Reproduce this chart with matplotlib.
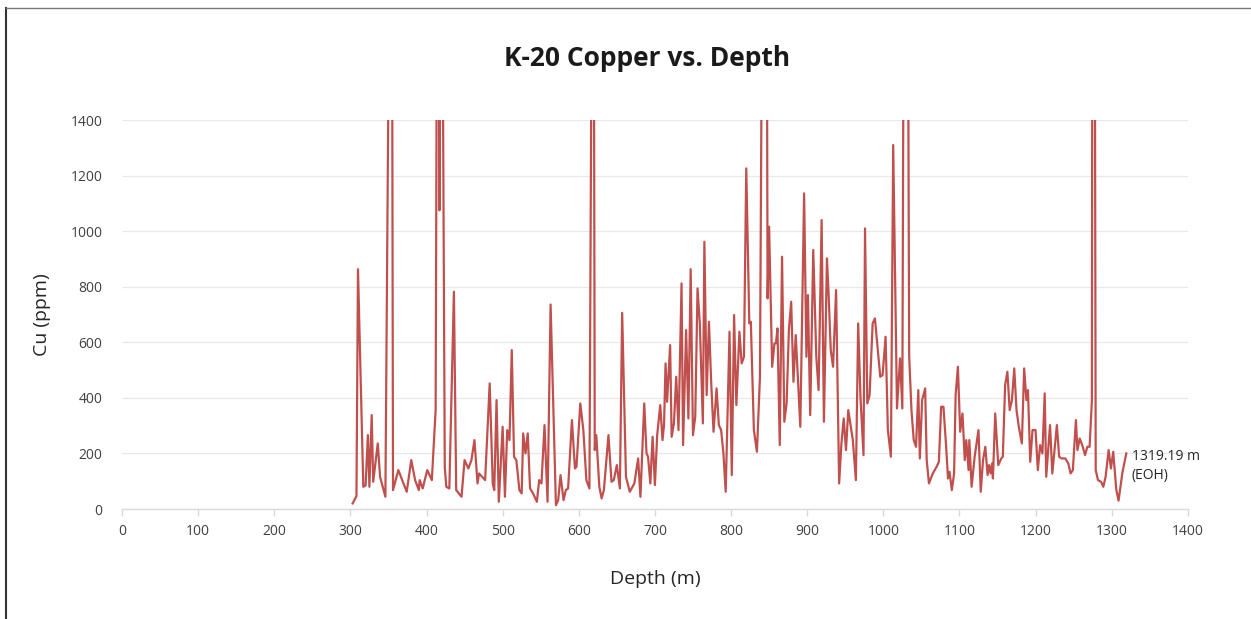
import matplotlib
matplotlib.use("Agg")
import matplotlib.pyplot as plt
from matplotlib.lines import Line2D

plt.rcParams["font.family"] = ["Open Sans", "DejaVu Sans"]

LINE = "#C0504D"
GRID = "#D9D9D9"
TEXT = "#404040"

# spikes above the axis top get 3000 (clipped at 1400)
depth = [
    303, 308, 310, 317, 320, 323, 325, 328, 330, 336, 339, 346, 354, 356, 363, 374, 380, 385, 390, 391,
    395, 401, 407, 412, 415, 417, 419, 424, 426, 430, 436, 439, 446, 450, 455, 459, 463, 467, 469, 477,
    483, 487, 489, 492, 495, 500, 503, 506, 509, 512, 515, 518, 522, 525, 527, 530, 533, 536, 540, 545,
    548, 551, 555, 559, 563, 570, 573, 576, 580, 583, 586, 591, 595, 597, 602, 606, 610, 614, 619, 621,
    623, 627, 630, 633, 639, 643, 646, 650, 654, 657, 662, 667, 673, 678, 681, 686, 689, 691, 694, 697,
    700, 703, 707, 710, 712, 714, 716, 720, 722, 725, 728, 731, 735, 737, 741, 744, 747, 750, 753, 756,
    759, 763, 765, 768, 771, 774, 777, 781, 784, 787, 790, 793, 798, 801, 804, 807, 811, 814, 817, 820,
    824, 826, 830, 834, 838, 843, 846, 848, 850, 854, 857, 859, 861, 864, 867, 870, 873, 876, 879, 882,
    885, 891, 896, 899, 901, 904, 908, 912, 915, 919, 922, 926, 928, 931, 934, 938, 942, 945, 948, 951,
    954, 960, 964, 967, 970, 974, 976, 979, 982, 986, 989, 992, 996, 999, 1003, 1006, 1010, 1013, 1018, 1022,
    1025, 1028, 1031, 1034, 1037, 1040, 1043, 1046, 1048, 1051, 1055, 1057, 1060, 1065, 1070, 1073, 1076, 1079, 1082, 1085,
    1087, 1090, 1093, 1095, 1098, 1101, 1104, 1107, 1109, 1112, 1113, 1116, 1120, 1125, 1128, 1131, 1134, 1137, 1139, 1141,
    1143, 1144, 1147, 1151, 1155, 1157, 1160, 1163, 1166, 1169, 1172, 1175, 1178, 1182, 1185, 1188, 1190, 1193, 1196, 1200,
    1203, 1206, 1209, 1212, 1214, 1219, 1222, 1228, 1231, 1234, 1239, 1243, 1246, 1249, 1253, 1255, 1258, 1262, 1265, 1268,
    1271, 1274, 1275, 1277, 1279, 1282, 1286, 1289, 1292, 1296, 1299, 1302, 1306, 1309, 1314, 1319.19,
]
cu_ppm = [
    20, 47, 863, 80, 85, 266, 80, 338, 98, 236, 116, 44, 3000, 68, 140, 62, 176, 104, 68, 104,
    74, 140, 104, 356, 3000, 1075, 3000, 150, 80, 74, 782, 68, 44, 176, 146, 176, 248, 92, 128, 104,
    452, 92, 68, 392, 26, 296, 44, 284, 248, 572, 188, 176, 68, 56, 272, 200, 272, 74, 56, 26,
    104, 92, 302, 26, 736, 14, 32, 122, 32, 68, 74, 320, 146, 152, 380, 284, 104, 74, 3000, 212,
    266, 80, 38, 68, 266, 98, 104, 158, 74, 706, 116, 62, 92, 182, 44, 380, 200, 188, 92, 260,
    86, 266, 374, 248, 302, 524, 386, 590, 260, 308, 476, 284, 812, 230, 644, 326, 863, 266, 332, 794,
    668, 308, 962, 410, 674, 452, 278, 434, 302, 284, 200, 62, 638, 122, 698, 374, 638, 524, 548, 1226,
    668, 674, 284, 206, 476, 3000, 3000, 758, 1016, 512, 596, 596, 650, 230, 908, 314, 380, 644, 746, 458,
    626, 296, 1136, 548, 770, 338, 932, 548, 428, 1040, 314, 902, 782, 572, 512, 788, 92, 236, 326, 212,
    356, 248, 104, 668, 404, 194, 1010, 380, 410, 668, 686, 596, 476, 482, 620, 284, 188, 1310, 362, 542,
    362, 3000, 3000, 548, 356, 248, 224, 428, 182, 392, 434, 176, 92, 128, 152, 170, 368, 368, 248, 110,
    134, 68, 128, 410, 512, 278, 344, 176, 248, 140, 248, 80, 188, 284, 62, 176, 224, 122, 158, 128,
    164, 110, 344, 158, 182, 188, 446, 494, 356, 392, 506, 356, 296, 236, 506, 392, 428, 170, 284, 284,
    140, 230, 200, 416, 116, 302, 128, 302, 188, 182, 182, 164, 128, 140, 320, 212, 254, 224, 194, 224,
    224, 392, 3000, 3000, 140, 104, 98, 80, 116, 212, 146, 206, 70, 30, 130, 200,
]

x_ticks = list(range(0, 1401, 100))
y_ticks = list(range(0, 1401, 200))

fig = plt.figure(figsize=(12.51, 6.19), dpi=100)
ax = fig.add_axes([0.0975, 0.1777, 0.852, 0.6284])

ax.plot(depth, cu_ppm, color=LINE, linewidth=1.6, solid_joinstyle="round")

ax.set_xlim(0, 1400)
ax.set_ylim(0, 1400)
ax.set_xticks(x_ticks)
ax.set_yticks(y_ticks)
ax.tick_params(axis="x", labelsize=10, colors=GRID, labelcolor=TEXT, length=5, width=1, pad=6)
ax.tick_params(axis="y", labelsize=10, labelcolor=TEXT, length=0, pad=14)
ax.grid(axis="y", color=GRID, linewidth=0.9, alpha=0.6)
ax.set_axisbelow(True)
for s in ("top", "right", "left"):
    ax.spines[s].set_visible(False)
ax.spines["bottom"].set_color(GRID)
ax.spines["bottom"].set_linewidth(1)

ax.set_xlabel("Depth (m)", fontsize=14, color="#262626", labelpad=22)
ax.set_ylabel("Cu (ppm)", fontsize=14, color="#262626", labelpad=14)

fig.text(647 / 1251, 1 - 58 / 619, "K-20 Copper vs. Depth", ha="center", va="center",
         fontsize=19, fontweight="bold", color="#1a1a1a")

ax.annotate("1319.19 m\n(EOH)", xy=(depth[-1], cu_ppm[-1]), xytext=(4, -9),
            textcoords="offset points", fontsize=10, color="#262626",
            ha="left", va="center", linespacing=1.4)

# screenshot frame
fig.add_artist(Line2D([6 / 1251, 6 / 1251], [0, 1 - 8 / 619], color="#333333", linewidth=1.5,
                      transform=fig.transFigure))
fig.add_artist(Line2D([6 / 1251, 1], [1 - 8 / 619, 1 - 8 / 619], color="#777777", linewidth=1,
                      transform=fig.transFigure))

fig.savefig("out.png", dpi=100)
